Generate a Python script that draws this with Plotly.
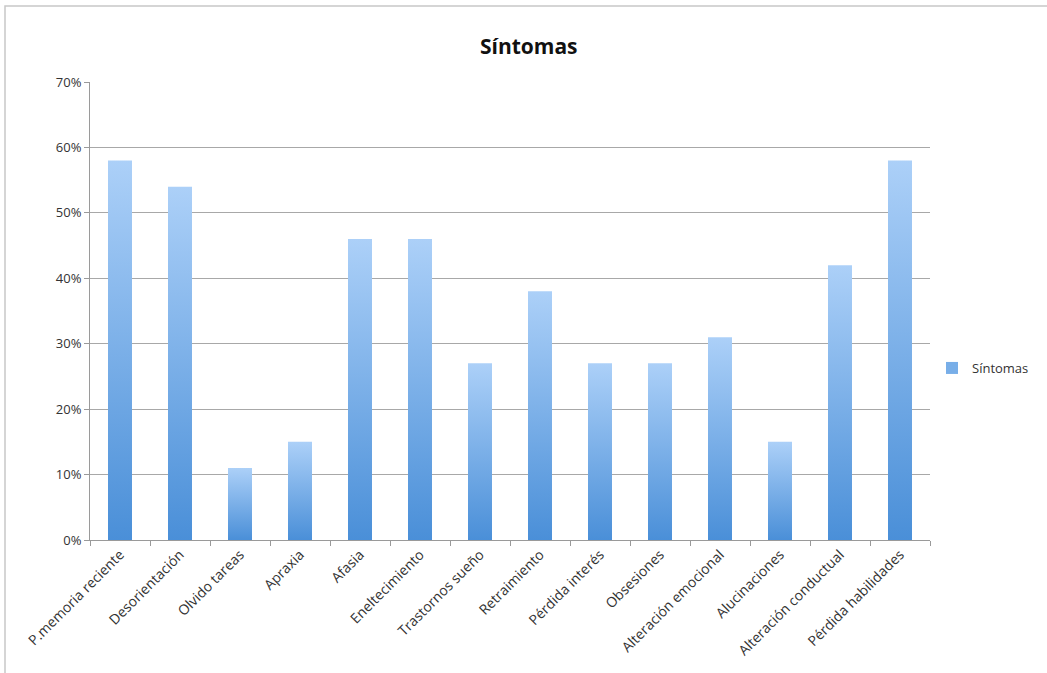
import plotly.graph_objects as go

categories = ["P.memoria reciente", "Desorientación", "Olvido tareas", "Apraxia", "Afasia",
              "Eneltecimiento", "Trastornos sueño", "Retraimiento", "Pérdida interés",
              "Obsesiones", "Alteración emocional", "Alucinaciones", "Alteración conductual",
              "Pérdida habilidades"]
values = [0.58, 0.54, 0.11, 0.15, 0.46, 0.46, 0.27, 0.38, 0.27, 0.27, 0.31, 0.15, 0.42, 0.58]
series_name = "Síntomas"
y_ticks = [0, 0.1, 0.2, 0.3, 0.4, 0.5, 0.6, 0.7]

FONT = "Open Sans, Liberation Sans, sans-serif"

fig = go.Figure()
fig.add_trace(go.Bar(
    x=categories, y=values, name=series_name,
    marker=dict(color="#78aee8", line=dict(width=0)),
    width=0.4, showlegend=True,
))

L, R, T, B = 90, 117, 82, 133
W, H = 1047, 673
pw, ph = W - L - R, H - T - B

fig.update_layout(
    width=W, height=H,
    margin=dict(l=L, r=R, t=T, b=B, autoexpand=False),
    paper_bgcolor="white", plot_bgcolor="white",
    font=dict(family=FONT, size=13, color="#333333"),
    title=dict(text="<b>Síntomas</b>", x=0.505, xanchor="center", y=1 - 47 / H, yanchor="middle",
               font=dict(family=FONT, size=21, color="#111111")),
    showlegend=True,
    legend=dict(x=(932 - L) / pw, y=(540 - 368) / ph, xanchor="left", yanchor="middle",
                font=dict(size=13, color="#333333"), itemwidth=30),
    xaxis=dict(showline=True, linecolor="#9a9a9a", linewidth=1, tickangle=-45,
               ticks="outside", tickson="boundaries", ticklen=5, tickcolor="#9a9a9a",
               tickfont=dict(size=14, color="#333333"), showgrid=False),
    yaxis=dict(range=[0, 0.7], tickvals=y_ticks, tickformat=".0%", showline=True,
               linecolor="#9a9a9a", linewidth=1, ticks="outside", ticklen=5, tickcolor="#9a9a9a",
               gridcolor="#a8a8a8", gridwidth=1, zeroline=False,
               tickfont=dict(size=13, color="#333333")),
    shapes=[dict(type="rect", xref="paper", yref="paper",
                 x0=(5 - L) / pw, x1=(W + 10 - L) / pw,
                 y0=-(B + 10) / ph, y1=(H - 6 - B) / ph,
                 line=dict(color="#c8c8c8", width=1.5), fillcolor="rgba(0,0,0,0)", layer="below")],
)

post = """
var gd = document.getElementById('{plot_id}');
function applyGrad(){
  var svg = gd.querySelector('svg.main-svg');
  if(!svg) return;
  var ns = 'http://www.w3.org/2000/svg';
  var defs = svg.querySelector('defs');
  if(!document.getElementById('bargrad')){
    var lg = document.createElementNS(ns,'linearGradient');
    lg.setAttribute('id','bargrad');
    lg.setAttribute('x1','0'); lg.setAttribute('y1','0');
    lg.setAttribute('x2','0'); lg.setAttribute('y2','1');
    var s1 = document.createElementNS(ns,'stop'); s1.setAttribute('offset','0'); s1.setAttribute('stop-color','#acd0f8');
    var s2 = document.createElementNS(ns,'stop'); s2.setAttribute('offset','1'); s2.setAttribute('stop-color','#4a8fd8');
    lg.appendChild(s1); lg.appendChild(s2); defs.appendChild(lg);
  }
  gd.querySelectorAll('.barlayer .point path').forEach(function(p){ p.style.fill='url(#bargrad)'; });
}
applyGrad();
gd.on('plotly_afterplot', applyGrad);
"""
fig.write_html("out.html", post_script=post)
